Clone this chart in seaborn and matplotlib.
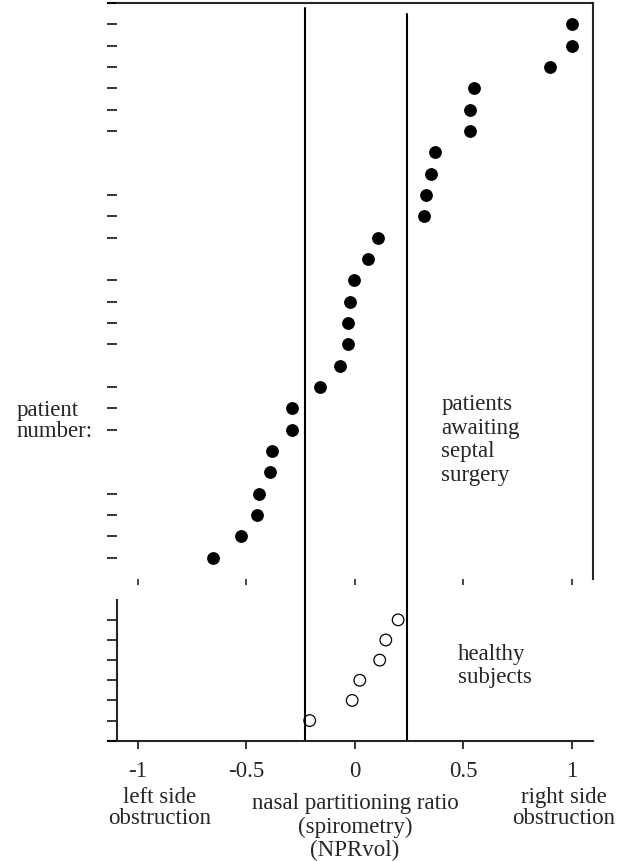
"""
plot.py - nasal partitioning ratio (NPRvol) per patient / healthy subject.
"""

import numpy as np
import matplotlib
matplotlib.use("Agg")
import matplotlib.pyplot as plt
import seaborn as sns
import pandas as pd

# --- dati ---
# pazienti in attesa di chirurgia settale, dall'alto verso il basso
patient_npr = [1.0, 1.0, 0.90, 0.55, 0.53, 0.53, 0.37, 0.35, 0.33, 0.32,
               0.105, 0.06, -0.005, -0.02, -0.03, -0.03, -0.07, -0.16,
               -0.29, -0.29, -0.38, -0.39, -0.44, -0.45, -0.525, -0.655]
patient_pos = list(range(len(patient_npr), 0, -1))
patient_ticks = [26, 25, 24, 23, 22, 21, 18, 17, 16, 14, 13, 12, 11,
                 9, 8, 7, 4, 3, 2, 1]

# soggetti sani, dall'alto verso il basso
healthy_npr = [0.20, 0.143, 0.115, 0.023, -0.012, -0.208]
healthy_pos = list(range(len(healthy_npr), 0, -1))

x_ticks = [-1, -0.5, 0, 0.5, 1]
x_ticklabels = ["-1", "-0.5", "0", "0.5", "1"]
limits = [-0.23, 0.24]   # linee verticali

sns.set_style("ticks")
plt.rcParams["font.family"] = ["Liberation Serif", "DejaVu Serif"]
FS = 16.5
plt.rcParams["font.size"] = FS

W, H = 627, 862
fig = plt.figure(figsize=(W / 100, H / 100), dpi=100)

def px_box(left, top, right, bottom):
    return [left / W, 1 - bottom / H, (right - left) / W, (bottom - top) / H]

ax_top = fig.add_axes(px_box(117, 4, 593, 580))
ax_bot = fig.add_axes(px_box(117, 600.7, 593, 741.7))

xlim = (-1.097, 1.099)
lw = 1.5

# pannello superiore
df_p = pd.DataFrame({"npr": patient_npr, "pos": patient_pos})
sns.scatterplot(data=df_p, x="npr", y="pos", ax=ax_top, color="black",
                s=85, edgecolor="black", linewidth=0, legend=False)
ax_top.set_xlim(*xlim)
ax_top.set_ylim(0, 27)
ax_top.set_yticks(patient_ticks)
ax_top.set_yticklabels([])
ax_top.set_xticks(x_ticks)
ax_top.set_xticklabels([])
ax_top.set_xlabel("")
ax_top.set_ylabel("")
for side in ["left", "bottom"]:
    ax_top.spines[side].set_visible(False)
for side in ["top", "right"]:
    ax_top.spines[side].set_linewidth(lw)
ax_top.tick_params(axis="y", length=7.2, width=1.3, direction="out")
ax_top.tick_params(axis="x", length=4.5, width=1.2, direction="out")
ax_top.plot([-0.021, 0], [1, 1], transform=ax_top.transAxes, color="black",
            lw=lw, clip_on=False, solid_capstyle="butt")

# linee verticali continue tra i due pannelli
gap = 20.7 / 576
ax_top.axvline(limits[0], ymin=-gap, ymax=(580 - 9.3) / 576, color="black",
               lw=lw, clip_on=False)
ax_top.axvline(limits[1], ymin=-gap, ymax=(580 - 15) / 576, color="black",
               lw=lw, clip_on=False)

ax_top.text(0.40, 6.56, "patients\nawaiting\nseptal\nsurgery", ha="left",
            va="center", fontsize=FS, linespacing=1.18)

# pannello inferiore
df_h = pd.DataFrame({"npr": healthy_npr, "pos": healthy_pos})
sns.scatterplot(data=df_h, x="npr", y="pos", ax=ax_bot, facecolor="none",
                edgecolor="black", s=70, linewidth=0.9, legend=False)
ax_bot.set_xlim(*xlim)
ax_bot.set_ylim(0, 7)
ax_bot.set_yticks(healthy_pos)
ax_bot.set_yticklabels([])
ax_bot.set_xticks(x_ticks)
ax_bot.set_xticklabels(x_ticklabels)
ax_bot.set_ylabel("")
for side in ["top", "right"]:
    ax_bot.spines[side].set_visible(False)
for side in ["left", "bottom"]:
    ax_bot.spines[side].set_linewidth(lw)
ax_bot.tick_params(axis="y", length=7.2, width=1.3, direction="out")
ax_bot.tick_params(axis="x", length=6, width=1.3, direction="out", pad=8,
                   labelsize=FS)
ax_bot.plot([-0.021, 0], [0, 0], transform=ax_bot.transAxes, color="black",
            lw=lw, clip_on=False, solid_capstyle="butt")
for v in limits:
    ax_bot.axvline(v, color="black", lw=lw)

ax_bot.text(0.477, 3.76, "healthy\nsubjects", ha="left", va="center",
            fontsize=FS, linespacing=1.1)

ax_bot.set_xlabel("nasal partitioning ratio\n(spirometry)\n(NPRvol)",
                  fontsize=FS, linespacing=1.15, labelpad=8)
ax_bot.text(-0.9, -0.47, "left side\nobstruction", ha="center", va="center",
            transform=ax_bot.get_xaxis_transform(), fontsize=FS,
            linespacing=1.0)
ax_bot.text(0.965, -0.47, "right side\nobstruction", ha="center", va="center",
            transform=ax_bot.get_xaxis_transform(), fontsize=FS,
            linespacing=1.0)

fig.text(17 / W, 1 - 421 / H, "patient\nnumber:", ha="left", va="center",
         fontsize=FS, linespacing=1.0)

fig.savefig("out.png", dpi=100)
